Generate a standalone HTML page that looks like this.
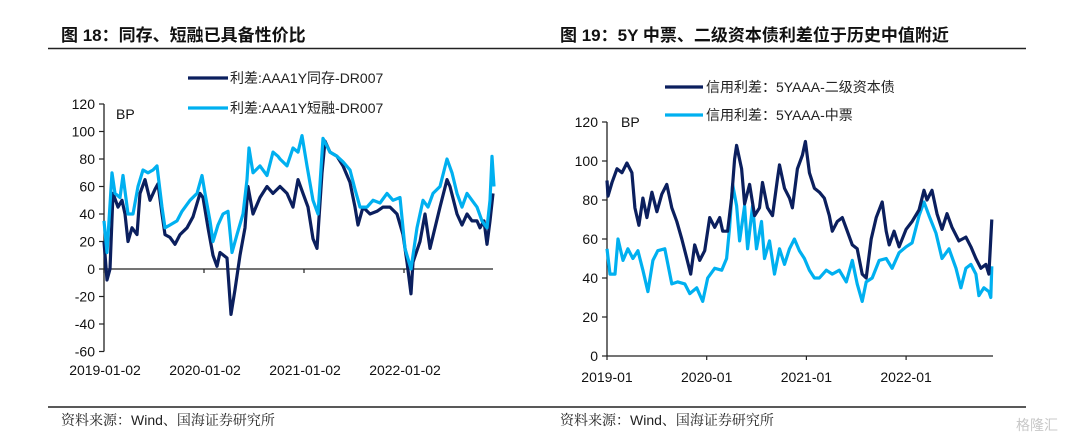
<!DOCTYPE html>
<html><head><meta charset="utf-8">
<style>
body{margin:0;background:#fff;}
svg text{font-family:"Liberation Sans","Noto Sans CJK SC",sans-serif;}
.cn{font-family:"Liberation Sans","Noto Serif CJK SC",serif;}
</style></head>
<body>
<svg id="root" width="1080" height="442" viewBox="0 0 1080 442" xmlns="http://www.w3.org/2000/svg">
<text x="61" y="41" font-size="17" font-weight="bold" fill="#111">图 18：同存、短融已具备性价比</text>
<text x="560" y="41" font-size="17" font-weight="bold" fill="#111">图 19：5Y 中票、二级资本债利差位于历史中值附近</text>
<line x1="48" y1="48.5" x2="1026" y2="48.5" stroke="#222" stroke-width="1.5"/>
<line x1="48" y1="407" x2="1026" y2="407" stroke="#222" stroke-width="1.5"/>
<text x="61" y="425" font-size="14" fill="#222" class="cn">资料来源：Wind、国海证券研究所</text>
<text x="560" y="425" font-size="14" fill="#222" class="cn">资料来源：Wind、国海证券研究所</text>
<text x="1016" y="430" font-size="14" fill="#c8c8c8">格隆汇</text>

<g id="left"></g>
<g id="right"></g>

<line x1="188" y1="78" x2="228" y2="78" stroke="#0b1f5e" stroke-width="3.2"/>
<text x="230" y="83" font-size="14" fill="#222">利差:AAA1Y同存-DR007</text>
<line x1="188" y1="108" x2="228" y2="108" stroke="#00b0f0" stroke-width="3.2"/>
<text x="230" y="113" font-size="14" fill="#222">利差:AAA1Y短融-DR007</text>
<line x1="665" y1="87" x2="703" y2="87" stroke="#0b1f5e" stroke-width="3.2"/>
<text x="706" y="92" font-size="14" fill="#222">信用利差：5YAAA-二级资本债</text>
<line x1="665" y1="115" x2="703" y2="115" stroke="#00b0f0" stroke-width="3.2"/>
<text x="706" y="120" font-size="14" fill="#222">信用利差：5YAAA-中票</text>
</svg>
<script>
const leftDarkT=[0,.03,.06,.09,.14,.18,.21,.24,.28,.33,.36,.41,.46,.51,.54,.58,.61,.66,.71,.76,.83,.89,.96,.99,1.04,1.09,1.13,1.16,1.23,1.27,1.31,1.36,1.41,1.44,1.49,1.56,1.63,1.69,1.76,1.83,1.89,1.94,1.99,2.04,2.09,2.13,2.18,2.21,2.26,2.33,2.39,2.46,2.51,2.54,2.59,2.66,2.73,2.79,2.86,2.93,2.99,3.03,3.07,3.09,3.16,3.21,3.26,3.31,3.36,3.43,3.46,3.53,3.58,3.63,3.68,3.73,3.76,3.80,3.83,3.86,3.89];
const leftDarkV=[20,-8,0,55,45,50,40,20,30,25,55,65,50,58,62,40,25,23,18,25,30,38,55,52,30,10,2,12,8,-33,-15,10,30,60,40,52,60,55,60,55,45,65,55,45,22,15,70,93,85,82,75,63,45,32,45,40,42,45,45,40,25,5,-18,5,20,40,15,30,45,65,60,40,32,40,35,35,30,35,18,35,55];
const leftLightT=[0,.03,.08,.11,.16,.19,.24,.29,.34,.39,.44,.49,.53,.58,.61,.66,.73,.78,.86,.93,.98,1.01,1.06,1.09,1.14,1.19,1.24,1.28,1.33,1.39,1.43,1.45,1.49,1.56,1.63,1.69,1.74,1.76,1.83,1.89,1.94,1.98,2.03,2.09,2.14,2.19,2.26,2.33,2.39,2.46,2.51,2.56,2.63,2.69,2.76,2.83,2.89,2.96,3.01,3.07,3.13,3.19,3.24,3.29,3.36,3.43,3.48,3.53,3.58,3.63,3.68,3.73,3.78,3.83,3.86,3.88,3.90];
const leftLightV=[35,12,70,55,52,68,40,40,60,72,70,72,75,45,30,32,35,42,50,55,68,55,35,20,32,40,42,12,25,40,65,88,70,75,68,85,82,80,75,88,85,97,75,50,40,95,85,82,78,72,58,45,45,50,48,55,50,52,15,0,30,50,45,55,60,80,70,55,45,55,50,45,35,30,50,82,60];
const leftYTicks=[120,100,80,60,40,20,0,-20,-40,-60];
const leftXLabels=["2019-01-02","2020-01-02","2021-01-02","2022-01-02"];
const leftXLabelT=[0,1,2,3];
const rightDarkT=[0,.01,.05,.10,.15,.20,.25,.28,.32,.36,.40,.45,.50,.55,.60,.65,.70,.75,.80,.84,.88,.93,.98,1.03,1.08,1.13,1.16,1.21,1.25,1.28,1.30,1.35,1.38,1.43,1.48,1.53,1.56,1.61,1.66,1.71,1.73,1.78,1.83,1.86,1.91,1.96,1.99,2.03,2.08,2.13,2.18,2.23,2.26,2.31,2.36,2.41,2.46,2.51,2.56,2.60,2.65,2.70,2.76,2.80,2.83,2.88,2.93,3.00,3.06,3.13,3.18,3.21,3.26,3.31,3.36,3.41,3.46,3.53,3.60,3.65,3.70,3.75,3.80,3.83,3.86];
const rightDarkV=[90,82,89,96,94,99,94,76,67,81,71,84,74,83,88,76,69,60,50,42,57,49,54,71,66,71,64,64,81,101,108,96,78,88,72,76,89,76,72,91,98,86,81,76,96,103,110,94,86,84,81,72,64,69,71,64,57,55,42,40,60,71,79,64,57,64,56,65,69,75,85,80,85,73,65,73,66,59,61,56,50,45,47,42,70];
const rightLightT=[0,.03,.08,.11,.16,.21,.26,.31,.36,.41,.46,.51,.58,.65,.71,.78,.83,.90,.96,1.01,1.08,1.15,1.20,1.23,1.26,1.30,1.33,1.38,1.41,1.46,1.50,1.55,1.58,1.63,1.68,1.73,1.78,1.83,1.88,1.93,1.98,2.03,2.08,2.13,2.20,2.26,2.33,2.40,2.46,2.51,2.56,2.60,2.66,2.73,2.80,2.86,2.93,3.00,3.06,3.13,3.18,3.23,3.30,3.36,3.43,3.50,3.55,3.60,3.65,3.70,3.73,3.78,3.83,3.85,3.86];
const rightLightV=[55,42,42,60,49,55,50,54,44,33,49,54,55,37,38,37,32,35,28,40,45,44,50,66,88,77,59,77,55,77,55,69,50,59,42,55,47,55,60,54,50,44,40,40,44,42,44,38,49,37,28,38,40,49,50,45,53,56,58,72,79,72,63,50,55,45,35,45,47,42,31,35,33,30,46];
const rightYTicks=[120,100,80,60,40,20,0];
const rightXLabels=["2019-01","2020-01","2021-01","2022-01"];
const rightXLabelT=[0,1,2,3];

const NS="http://www.w3.org/2000/svg";
function mk(parent,tag,attrs){const e=document.createElementNS(NS,tag);for(const k in attrs)e.setAttribute(k,attrs[k]);parent.appendChild(e);return e;}

function drawChart(g,cfg){
  const xs=t=>cfg.x0+t*cfg.pxPerYear;
  const ys=v=>cfg.yZero-v*cfg.pxPerUnit;
  const top=ys(cfg.yTicks[0]), bot=ys(cfg.yTicks[cfg.yTicks.length-1]);
  const ax=mk(g,'line',{x1:cfg.x0,y1:top,x2:cfg.x0,y2:bot,stroke:'#222','stroke-width':1.3});
  
  
  cfg.yTicks.forEach(v=>{
    const tk=mk(g,'line',{x1:cfg.x0-5,y1:ys(v),x2:cfg.x0,y2:ys(v),stroke:'#222','stroke-width':1.2});
    
    
    const tx=mk(g,'text',{x:cfg.x0-9,y:ys(v)+5,'font-size':14,'text-anchor':'end',fill:'#111'});
    tx.textContent=v;
    
    
  });
  const xa=mk(g,'line',{x1:cfg.x0,y1:ys(0),x2:cfg.xEnd,y2:ys(0),stroke:'#222','stroke-width':1.3});
  
  
  cfg.xLabelT.forEach((t,i)=>{
    const tk=mk(g,'line',{x1:xs(t),y1:ys(0),x2:xs(t),y2:ys(0)+4,stroke:'#222','stroke-width':1.2});
    
    
    const tx=mk(g,'text',{x:xs(t)+cfg.labelDx,y:cfg.labelY,'font-size':14,'text-anchor':'middle',fill:'#111'});
    tx.textContent=cfg.xLabels[i];
    
    
  });
  const bp=mk(g,'text',{x:cfg.bpX,y:cfg.bpY,'font-size':14,fill:'#111'});
  bp.textContent='BP';
  
  
  cfg.series.forEach(s=>{
    const d=s.t.map((t,i)=>(i?'L':'M')+xs(t).toFixed(1)+','+ys(s.v[i]).toFixed(1)).join('');
    const p=mk(g,'path',{d:d,fill:'none',stroke:s.color,'stroke-width':3.2,'stroke-linejoin':'round'});
    
    
  });
}
drawChart(document.getElementById('left'),{x0:104,xEnd:493,pxPerYear:100,yZero:269,pxPerUnit:1.375,
  yTicks:leftYTicks,xLabels:leftXLabels,xLabelT:leftXLabelT,labelY:375,labelDx:1,bpX:116,bpY:119,
  series:[{t:leftDarkT,v:leftDarkV,color:'#0b1f5e',name:'line-tongcun-spread'},{t:leftLightT,v:leftLightV,color:'#00b0f0',name:'line-duanrong-spread'}]});
drawChart(document.getElementById('right'),{x0:607,xEnd:993,pxPerYear:99.7,yZero:356,pxPerUnit:1.95,
  yTicks:rightYTicks,xLabels:rightXLabels,xLabelT:rightXLabelT,labelY:382,labelDx:0,bpX:621,bpY:127,
  series:[{t:rightLightT,v:rightLightV,color:'#00b0f0',name:'line-mtn-spread'},{t:rightDarkT,v:rightDarkV,color:'#0b1f5e',name:'line-tier2-spread'}]});
</script>
</body></html>
